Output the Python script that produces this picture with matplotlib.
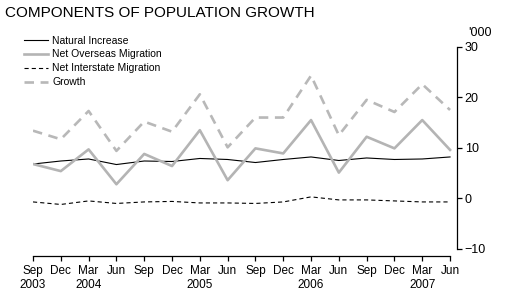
import matplotlib
matplotlib.use('Agg')
import matplotlib.pyplot as plt

plt.rcParams['font.family'] = ['Liberation Sans', 'DejaVu Sans']

quarters = ['Sep\n2003', 'Dec', 'Mar\n2004', 'Jun', 'Sep', 'Dec', 'Mar\n2005', 'Jun',
            'Sep', 'Dec', 'Mar\n2006', 'Jun', 'Sep', 'Dec', 'Mar\n2007', 'Jun']
natural_increase = [6.8, 7.4, 7.8, 6.7, 7.4, 7.3, 7.9, 7.7, 7.1, 7.7, 8.2, 7.5, 8.0, 7.7, 7.8, 8.2]
net_overseas = [6.8, 5.4, 9.7, 2.8, 8.8, 6.4, 13.5, 3.6, 9.9, 8.9, 15.5, 5.1, 12.2, 9.9, 15.5, 9.6]
net_interstate = [-0.7, -1.2, -0.5, -1.0, -0.7, -0.6, -0.9, -0.9, -1.0, -0.7, 0.3, -0.3, -0.3, -0.5, -0.7, -0.7]
growth = [13.4, 11.7, 17.3, 9.4, 15.2, 13.2, 20.6, 10.1, 16.0, 16.0, 24.3, 12.5, 19.5, 17.1, 22.6, 17.5]

W, H = 506, 307
fig = plt.figure(figsize=(W / 100, H / 100), dpi=100)
ax = fig.add_axes([33 / W, (H - 256) / H, (457 - 33) / W, (256 - 46.8) / H])

x = list(range(len(quarters)))
ax.plot(x, natural_increase, color='black', lw=0.8, label='Natural Increase')
ax.plot(x, net_overseas, color='#b4b4b4', lw=1.9, label='Net Overseas Migration')
ax.plot(x, net_interstate, color='black', lw=0.8, dashes=(3.75, 2.75), label='Net Interstate Migration')
ax.plot(x, growth, color='#b8b8b8', lw=1.9, dashes=(3.6, 2.5), label='Growth')

ax.set_xlim(0, 15.25)
ax.set_ylim(-11.4, 30)

ax.spines['top'].set_visible(False)
ax.spines['left'].set_visible(False)
ax.spines['bottom'].set_bounds(0, 15)
ax.spines['right'].set_bounds(-10, 30)
for s in ('bottom', 'right'):
    ax.spines[s].set_linewidth(0.9)

ax.yaxis.tick_right()
ax.set_yticks([-10, 0, 10, 20, 30])
ax.set_yticklabels(['\u221210', '0', '10', '20', '30'])
ax.tick_params(axis='y', direction='out', length=3.6, width=0.9, pad=2, labelsize=9)
ax.set_xticks(x)
ax.set_xticklabels(quarters)
ax.tick_params(axis='x', direction='out', length=3.6, width=0.9, pad=3, labelsize=8.5)

fig.text(5 / W, 1 - 13 / H, 'COMPONENTS OF POPULATION GROWTH', fontsize=11, va='center', ha='left')
fig.text(468 / W, 1 - 33 / H, "'000", fontsize=9, va='center', ha='left')

ax.legend(loc='upper left', bbox_to_anchor=(24 / W, 1 - 35.5 / H), bbox_transform=fig.transFigure,
          frameon=False, fontsize=7.5, handlelength=2.3, handletextpad=0.4,
          labelspacing=0.38, borderpad=0, borderaxespad=0)

fig.savefig('out.png', dpi=100)
